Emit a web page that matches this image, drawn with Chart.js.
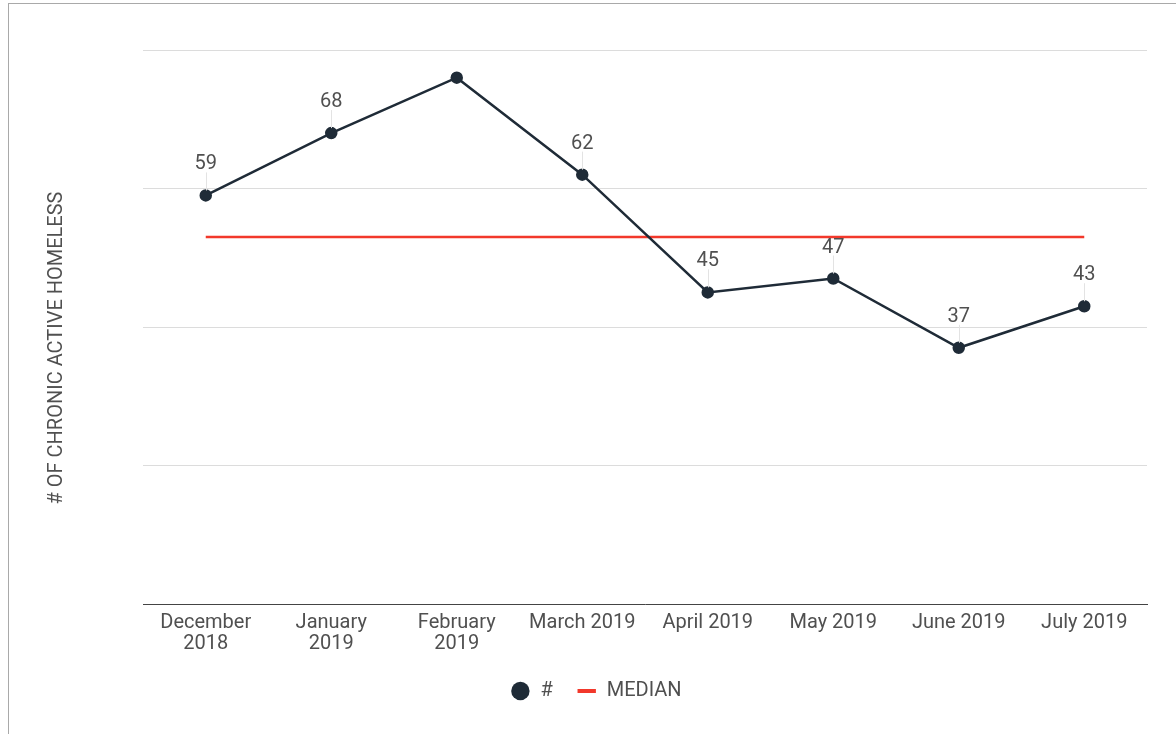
<!DOCTYPE html>
<html>
<head>
<meta charset="utf-8">
<script src="https://cdn.jsdelivr.net/npm/chart.js@4.4.1/dist/chart.umd.min.js"></script>
<style>
  html, body { margin: 0; padding: 0; background: #fff; overflow: hidden; }
  #frame {
    position: absolute; left: 8px; top: 3px; width: 1200px; height: 800px;
    border-left: 1px solid #a9a9a9; border-top: 1px solid #a9a9a9;
  }
  #chart { position: absolute; left: 0; top: 0; }
</style>
</head>
<body>
<div id="frame"></div>
<canvas id="chart" width="1176" height="734"></canvas>
<script>
// months shown on the x axis (multi-line where the original wraps)
const months = [
  ["December", "2018"], ["January", "2019"], ["February", "2019"], "March 2019",
  "April 2019", "May 2019", "June 2019", "July 2019"
];
const homeless = [59, 68, 76, 62, 45, 47, 37, 43];
const median = [53, 53, 53, 53, 53, 53, 53, 53];
const yTicks = [0, 20, 40, 60, 80];

const yTitle = "# OF CHRONIC ACTIVE HOMELESS";
const textColor = "#505050";
const lineColor = "#1f2b37";
const medianColor = "#f2382b";
const fontSize = 20;

// value labels with a thin leader line, skipped when they would leave the plot
const valueLabels = {
  id: "valueLabels",
  afterDatasetsDraw(chart) {
    const { ctx, chartArea } = chart;
    const meta = chart.getDatasetMeta(0);
    ctx.save();
    ctx.font = fontSize + "px Roboto";
    ctx.fillStyle = textColor;
    ctx.textAlign = "center";
    ctx.textBaseline = "alphabetic";
    meta.data.forEach((pt, i) => {
      const textBottom = pt.y - 26;
      if (textBottom - 16 < chartArea.top) return;
      ctx.strokeStyle = "#e3e3e3";
      ctx.lineWidth = 1;
      ctx.beginPath();
      ctx.moveTo(Math.round(pt.x) + 0.5, pt.y - 5);
      ctx.lineTo(Math.round(pt.x) + 0.5, textBottom + 3);
      ctx.stroke();
      ctx.fillText(String(homeless[i]), pt.x, textBottom);
    });
    ctx.restore();
  }
};

// y axis title, placed like the original
const sideTitle = {
  id: "sideTitle",
  afterDraw(chart) {
    const { ctx } = chart;
    ctx.save();
    ctx.translate(57, 348);
    ctx.rotate(-Math.PI / 2);
    ctx.font = fontSize + "px Roboto";
    ctx.fillStyle = textColor;
    ctx.textAlign = "center";
    ctx.textBaseline = "middle";
    ctx.fillText(yTitle, 0, 0);
    ctx.restore();
  }
};

new Chart(document.getElementById("chart"), {
  type: "line",
  data: {
    labels: months,
    datasets: [
      {
        label: "#",
        data: homeless,
        borderColor: lineColor,
        backgroundColor: lineColor,
        borderWidth: 2.5,
        pointRadius: 5,
        pointHoverRadius: 5,
        tension: 0,
        order: 0
      },
      {
        label: "MEDIAN",
        data: median,
        borderColor: medianColor,
        backgroundColor: medianColor,
        borderWidth: 2.5,
        pointRadius: 0,
        tension: 0,
        order: 1
      }
    ]
  },
  options: {
    responsive: false,
    animation: false,
    maintainAspectRatio: false,
    devicePixelRatio: 1,
    layout: { padding: { left: 45, right: 29, top: 50, bottom: 23 } },
    plugins: {
      tooltip: { enabled: false },
      legend: {
        position: "bottom",
        labels: {
          usePointStyle: true,
          boxHeight: 13,
          padding: 24,
          color: textColor,
          font: { family: "Roboto", size: fontSize },
          generateLabels: () => [
            { text: "#", pointStyle: "circle", fillStyle: lineColor, strokeStyle: lineColor, lineWidth: 0, fontColor: textColor, datasetIndex: 0 },
            { text: "MEDIAN", pointStyle: "line", fillStyle: medianColor, strokeStyle: medianColor, lineWidth: 4, fontColor: textColor, datasetIndex: 1 }
          ]
        }
      }
    },
    scales: {
      x: {
        offset: true,
        grid: { display: false, drawTicks: false },
        border: { display: true, color: "#444", width: 1 },
        ticks: {
          color: textColor,
          font: { family: "Roboto", size: fontSize, lineHeight: 1.05 },
          maxRotation: 0,
          autoSkip: false,
          padding: 8
        },
        afterFit: (scale) => { scale.height -= 5; }
      },
      y: {
        min: yTicks[0],
        max: yTicks[yTicks.length - 1],
        afterBuildTicks: (scale) => { scale.ticks = yTicks.map(v => ({ value: v })); },
        afterFit: (scale) => { scale.width = 98; },
        ticks: { display: false },
        grid: { color: "#dcdcdc", lineWidth: 1, drawTicks: false },
        border: { display: false }
      }
    }
  },
  plugins: [valueLabels, sideTitle]
});
</script>
</body>
</html>
